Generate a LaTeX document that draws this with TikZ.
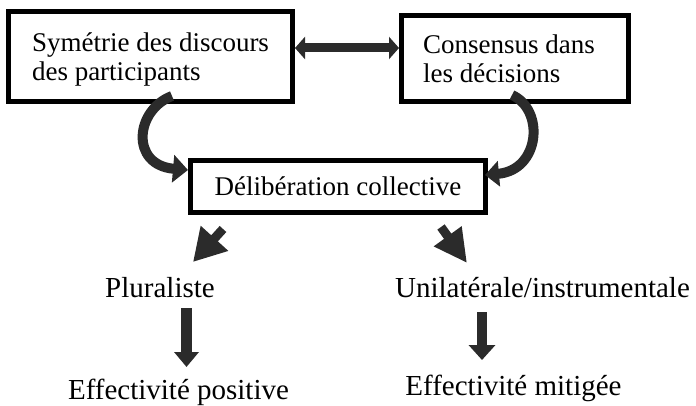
\documentclass[tikz,border=0pt]{standalone}
\usepackage{fontspec}
\setmainfont{Liberation Serif}
\usetikzlibrary{arrows.meta}
\definecolor{arrowgray}{HTML}{2B2B2B}
\begin{document}
\begin{tikzpicture}[x=1pt,y=-1pt,
  box/.style={draw=black,line width=5pt,rectangle,inner sep=0pt,font=\fontsize{27}{29}\selectfont},
  lbl/.style={font=\fontsize{29}{32}\selectfont,anchor=base,inner sep=0pt},
  conn/.style={draw=arrowgray,line width=#1},
  ]
\useasboundingbox (0,0) rectangle (696,406);

\node[box,minimum width=284pt,minimum height=90pt,align=left,text depth=0pt] (b1) at (150.5,56.5) {Symétrie des discours\\des participants};
\node[box,minimum width=227pt,minimum height=86pt,align=left,text depth=0pt] (b2) at (515,58.5) {Consensus dans\hspace*{12pt}\\les décisions};
\node[box,minimum width=295pt,minimum height=52pt] (b3) at (338,186.5) {Délibération collective};

\node[lbl] (plur) at (160,297) {Pluraliste};
\node[lbl] (unil) at (542.5,297) {Unilatérale/instrumentale};
\node[lbl] (effp) at (178.5,399) {Effectivité positive};
\node[lbl] (effm) at (513.5,395) {Effectivité mitigée};

% double arrow between top boxes
\draw[conn=9pt,{Triangle[width=22pt,length=10pt]}-{Triangle[width=22pt,length=10pt]}]
  ([yshift=8.5pt]b1.east) -- ([yshift=8.5pt]b1.east -| b2.west);

% curved arrows into the central box
\draw[conn=10pt,-{Triangle[width=27pt,length=15pt]}]
  ([xshift=21.5pt,yshift=8pt]b1.south) .. controls +(-37,14) and +(-58,-5) .. ([yshift=16.5pt]b3.west);
\draw[conn=10pt,-{Triangle[width=25pt,length=14pt]}]
  ([xshift=-3pt,yshift=9pt]b2.south) .. controls +(33,15) and +(55,-5) .. ([xshift=-3pt,yshift=11.5pt]b3.east);

% diagonal arrows
\coordinate (d1s) at (223,229);
\coordinate (d1e) at (193,262);
\coordinate (d2s) at (441,227);
\coordinate (d2e) at (467,263);
\draw[conn=9pt,-{Triangle[width=35pt,length=32pt]}] (d1s) -- (d1e);
\draw[conn=9pt,-{Triangle[width=32pt,length=33pt]}] (d2s) -- (d2e);

% down arrows
\coordinate (v1s) at (186.5,308);
\coordinate (v1e) at (186.5,367);
\coordinate (v2s) at (482,312);
\coordinate (v2e) at (482,360);
\draw[conn=11pt,-{Triangle[width=24pt,length=15pt]}] (v1s) -- (v1e);
\draw[conn=10pt,-{Triangle[width=26pt,length=15pt]}] (v2s) -- (v2e);
\end{tikzpicture}
\end{document}
